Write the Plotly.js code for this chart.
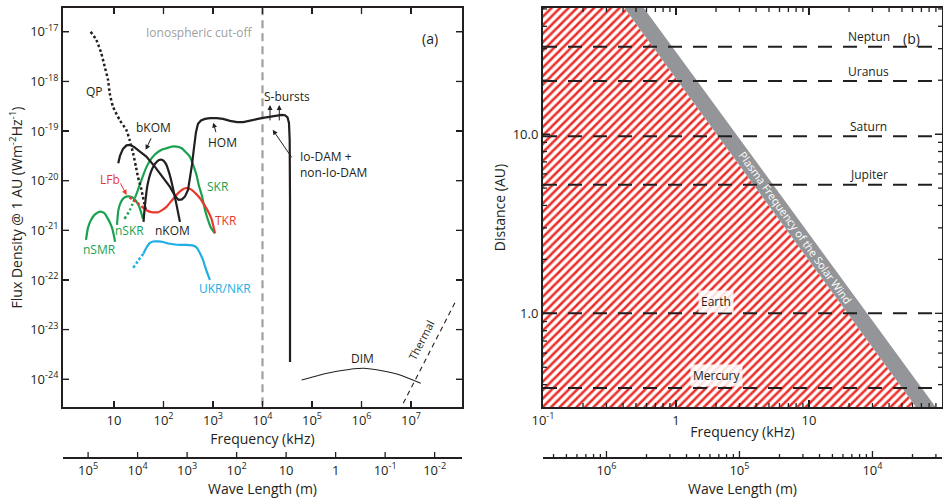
<!DOCTYPE html>
<html><head><meta charset="utf-8">
<script src="https://cdn.plot.ly/plotly-3.0.1.min.js"></script>
<style>html,body{margin:0;padding:0;background:#fff}#chart{width:943px;height:501px}</style>
</head><body><div id="chart"></div>
<script>
// ---------------- Panel (a): frequency (kHz) vs flux density @ 1 AU (W m^-2 Hz^-1)
const qpFreq = [3.38, 4.39, 5.53, 6.48, 7.57, 8.19, 9.55, 13.0, 17.7, 20.7, 24.2, 27.8, 30.5, 35.1, 38.5, 43.7];
const qpFlux = [1.0e-17, 6.9e-18, 3.7e-18, 2.0e-18, 1.08e-18, 5.8e-19, 3.1e-19, 1.68e-19, 1.06e-19, 6.65e-20, 3.63e-20, 1.9e-20, 1.19e-20, 7.2e-21, 4.7e-21, 2.6e-21];

const jovianFreq = [12.2, 13.2, 15.2, 17.9, 21.0, 25.4, 32.0, 45.0, 67.3, 97.7, 135, 171, 201, 236, 272, 313, 343, 376, 413, 454, 498, 573, 689, 869, 1188, 1592, 2203, 3055, 4093, 5585, 7638, 10230, 14190, 18750, 24430, 28510, 32000, 34270, 35400, 35970, 35970];
const jovianFlux = [2.25e-20, 3.16e-20, 4.38e-20, 5.15e-20, 5.27e-20, 4.8e-20, 3.98e-20, 3.06e-20, 1.9e-20, 1.19e-20, 7.5e-21, 4.94e-21, 4.1e-21, 4.2e-21, 4.82e-21, 6.5e-21, 1.14e-20, 2.08e-20, 4.58e-20, 9.6e-20, 1.4e-19, 1.64e-19, 1.76e-19, 1.82e-19, 1.82e-19, 1.76e-19, 1.61e-19, 1.51e-19, 1.51e-19, 1.64e-19, 1.74e-19, 1.85e-19, 1.96e-19, 2.07e-19, 2.12e-19, 2.09e-19, 1.89e-19, 1.46e-19, 6.65e-20, 4.1e-21, 2.22e-24];

const nkomFreq = [39.5, 42.3, 47.5, 55.8, 67.3, 81.1, 95.5, 112, 132, 152, 175, 196, 215];
const nkomFlux = [1.48e-21, 3.25e-21, 8.2e-21, 1.5e-20, 2.18e-20, 2.62e-20, 2.62e-20, 2.18e-20, 1.37e-20, 7.85e-21, 4.1e-21, 2.35e-21, 1.48e-21];

const nsmrFreq = [2.72, 2.98, 3.43, 4.13, 5.21, 6.28, 7.57, 9.0, 10.0, 10.5];
const nsmrFlux = [6.4e-22, 1.12e-21, 1.62e-21, 2.09e-21, 2.38e-21, 2.24e-21, 1.7e-21, 1.17e-21, 7.7e-22, 5.9e-22];

const nskrFreq = [11.5, 12.3, 13.8, 15.9, 18.7, 22.6, 26.5, 31.3, 35.1, 38.5];
const nskrFlux = [1.29e-21, 2.58e-21, 3.74e-21, 4.5e-21, 4.82e-21, 4.71e-21, 4.2e-21, 3.25e-21, 2.35e-21, 1.7e-21];
const nskrDotFreq = [16.3, 21.0, 26.5];
const nskrDotFlux = [1.7e-21, 2.58e-21, 4.5e-21];

const skrFreq = [26.5, 29.9, 33.5, 38.5, 45.4, 57.8, 73, 92, 116, 147, 185, 233, 285, 343, 404, 469, 521, 591, 689, 792, 912, 1097];
const skrFlux = [4.5e-21, 6.2e-21, 8.6e-21, 1.25e-20, 1.9e-20, 2.84e-20, 3.63e-20, 4.18e-20, 4.52e-20, 4.87e-20, 4.87e-20, 4.52e-20, 3.72e-20, 3.02e-20, 1.99e-20, 1.25e-20, 7.85e-21, 5.18e-21, 2.58e-21, 1.62e-21, 1.12e-21, 8.7e-22];

const lfbFreq = [20.6, 27.8, 39.5];
const lfbFlux = [4.6e-21, 3.74e-21, 2.83e-21];
const tkrFreq = [39.5, 46.4, 57.8, 67.3, 78.5, 95.5, 116, 142, 171, 215, 272, 320, 372, 454, 546, 658, 803, 933, 1097];
const tkrFlux = [2.83e-21, 2.52e-21, 2.32e-21, 2.3e-21, 2.32e-21, 2.58e-21, 3.0e-21, 3.83e-21, 4.78e-21, 6.08e-21, 7.06e-21, 7.0e-21, 6.53e-21, 5.42e-21, 4.44e-21, 3.33e-21, 2.38e-21, 1.7e-21, 8.7e-22];

const ukrDotFreq = [24.5, 30.5, 39.5];
const ukrDotFlux = [1.75e-22, 2.42e-22, 3.42e-22];
const ukrFreq = [39.5, 44.3, 52.6, 62.2, 77.4, 97.7, 123, 156, 215, 289, 400, 475, 546, 628, 705, 792, 869];
const ukrFlux = [3.42e-22, 4.31e-22, 5.5e-22, 5.97e-22, 5.97e-22, 5.83e-22, 5.44e-22, 5.25e-22, 5.08e-22, 5.08e-22, 4.92e-22, 4.42e-22, 3.45e-22, 2.53e-22, 1.75e-22, 1.26e-22, 1.0e-22];

const dimFreq = [6.19e4, 1.45e5, 3.68e5, 1.09e6, 2.76e6, 6.0e6, 1.57e7];
const dimFlux = [9.6e-25, 1.22e-24, 1.48e-24, 1.66e-24, 1.46e-24, 1.22e-24, 8.3e-25];
const thermalFreq = [6.98e6, 8.37e7];
const thermalFlux = [3.27e-25, 4.08e-23];

const cutoffFreq = 1e4;
const fluxRangeA = [3.0e-25, 3.0e-17];

const freqTicksA = [10, 1e2, 1e3, 1e4, 1e5, 1e6, 1e7];
const freqTickTextA = ['10', '10<sup>2</sup>', '10<sup>3</sup>', '10<sup>4</sup>', '10<sup>5</sup>', '10<sup>6</sup>', '10<sup>7</sup>'];
const fluxTicks = [1e-17, 1e-18, 1e-19, 1e-20, 1e-21, 1e-22, 1e-23, 1e-24];
const fluxTickText = ['10<sup>-17</sup>', '10<sup>-18</sup>', '10<sup>-19</sup>', '10<sup>-20</sup>', '10<sup>-21</sup>', '10<sup>-22</sup>', '10<sup>-23</sup>', '10<sup>-24</sup>'];
const waveTicksA = [1e5, 1e4, 1e3, 1e2, 10, 1, 0.1, 0.01];
const waveTickTextA = ['10<sup>5</sup>', '10<sup>4</sup>', '10<sup>3</sup>', '10<sup>2</sup>', '10', '1', '10<sup>-1</sup>', '10<sup>-2</sup>'];

const labelTextA = ['QP', 'bKOM', 'HOM', 'S-bursts', 'LFb', 'SKR', 'TKR', 'nSKR', 'nKOM', 'nSMR', 'UKR/NKR', 'DIM'];
const labelFreqA = [4.13, 61.4, 1520, 31300, 8.3, 1262, 1832, 21.0, 149, 5.21, 1746, 1.07e6];
const labelFluxA = [6.2e-19, 1.16e-19, 5.78e-20, 4.9e-19, 1.04e-20, 7.5e-21, 1.55e-21, 9.7e-22, 9.7e-22, 4.03e-22, 6.6e-23, 2.67e-24];
const labelColorA = ['#231f20', '#231f20', '#231f20', '#231f20', '#e8392d', '#1aa14f', '#e8392d', '#1aa14f', '#231f20', '#1aa14f', '#20aee5', '#231f20'];

// ---------------- Panel (b): frequency (kHz) vs distance (AU)
const planetNames = ['Mercury', 'Earth', 'Jupiter', 'Saturn', 'Uranus', 'Neptun'];
const planetDist = [0.383, 1.0, 5.22, 9.75, 19.8, 30.8];
const planetLabelFreq = [2.0, 2.0, 28.2, 28.2, 28.2, 28.2];
const bandDist = [0.3, 50.6];
const bandLowFreq = [63.8, 0.41];
const bandHighFreq = [89.5, 0.573];
const freqRangeB = [0.1, 100];
const distRangeB = [0.3, 50.6];
const freqTicksB = [0.1, 1, 10, 100];
const freqTickTextB = ['10<sup>-1</sup>', '1', '10', '100'];
const freqMinorB = [0.2,0.3,0.4,0.5,0.6,0.7,0.8,0.9, 2,3,4,5,6,7,8,9, 20,30,40,50,60,70,80,90];
const distTicksB = [1, 10];
const distTickTextB = ['1.0', '10.0'];
const distMinorB = [0.4,0.5,0.6,0.7,0.8,0.9, 2,3,4,5,6,7,8,9, 20,30,40,50];
const waveTicksB = [1e6, 1e5, 1e4];
const waveTickTextB = ['10<sup>6</sup>', '10<sup>5</sup>', '10<sup>4</sup>'];
const waveMinorPosB = [0.12,0.15,0.18,0.21,0.24,0.27, 0.6,0.9,1.2,1.5,1.8,2.1,2.4,2.7, 6,9,12,15,18,21,24,27, 60,90];

const LIGHT = 3e5; // wavelength (m) * frequency (kHz)
const INK = '#231f20', GREEN = '#1aa14f', RED = '#e8392d', BLUE = '#20aee5';
const W = 943, H = 501;

const traces = [];
function line(x, y, color, width, dash, xa, ya, shape) {
  traces.push({type: 'scatter', mode: 'lines', x: x, y: y, xaxis: xa || 'x', yaxis: ya || 'y',
    line: {color: color, width: width, dash: dash || 'solid', shape: shape || 'spline', smoothing: 0.6},
    hoverinfo: 'skip', showlegend: false});
}
function carrier(x, y, xa, ya) {
  traces.push({type:'scatter', mode:'markers', x: x, y: y, xaxis: xa, yaxis: ya,
    marker:{opacity:0, size:1}, hoverinfo:'skip', showlegend:false});
}
line([cutoffFreq, cutoffFreq], fluxRangeA, '#a0a0a0', 2.2, '8px,5px', 'x', 'y', 'linear');
line(nsmrFreq, nsmrFlux, GREEN, 2.2);
line(nskrFreq, nskrFlux, GREEN, 2.2);
line(nskrDotFreq, nskrDotFlux, GREEN, 2.5, '2.5px,2.5px');
line(skrFreq, skrFlux, GREEN, 2.2);
line(ukrDotFreq, ukrDotFlux, BLUE, 2.5, '2.5px,2.5px');
line(ukrFreq, ukrFlux, BLUE, 2.2);
line(lfbFreq, lfbFlux, RED, 2.5, '2.5px,2.5px');
line(tkrFreq, tkrFlux, RED, 2.2);
line(qpFreq, qpFlux, INK, 2.5, '2.5px,2.5px');
line(nkomFreq, nkomFlux, INK, 2.2);
line(jovianFreq, jovianFlux, INK, 2.2, 'solid', 'x', 'y', 'linear');
line(dimFreq, dimFlux, INK, 1.1);
line(thermalFreq, thermalFlux, INK, 1.1, '5px,4px', 'x', 'y', 'linear');
carrier(waveTicksA.map(w => LIGHT / w), waveTicksA.map(() => 1e-20), 'x2', 'y');

traces.push({type:'scatter', mode:'lines', xaxis:'x3', yaxis:'y3', hoverinfo:'skip', showlegend:false,
  x: [freqRangeB[0], freqRangeB[0], bandLowFreq[1], bandLowFreq[0]],
  y: [distRangeB[0], distRangeB[1], bandDist[1], bandDist[0]],
  fill:'toself', fillcolor:'white', line:{width:0},
  fillpattern:{shape:'/', fgcolor:'#ec2f2a', bgcolor:'white', size:6, solidity:0.42}});
traces.push({type:'scatter', mode:'lines', xaxis:'x3', yaxis:'y3', hoverinfo:'skip', showlegend:false,
  x: [bandLowFreq[0], bandLowFreq[1], bandHighFreq[1], bandHighFreq[0]],
  y: [bandDist[0], bandDist[1], bandDist[1], bandDist[0]],
  fill:'toself', fillcolor:'#939598', line:{width:0}});
planetDist.forEach(d => line(freqRangeB, [d, d], INK, 2, '14px,11px', 'x3', 'y3', 'linear'));
carrier(waveTicksB.map(w => LIGHT / w), waveTicksB.map(() => 1), 'x4', 'y3');

const FONT = 'Open Sans, Noto Sans, sans-serif';
const annotations = [];
function txt(x, y, text, color, opts) {
  annotations.push(Object.assign({x: x, y: y, text: text, showarrow: false, xref: 'x', yref: 'y',
    font: {family: FONT, size: 12, color: color || INK}}, opts || {}));
}
labelTextA.forEach((t, i) => txt(Math.log10(labelFreqA[i]), Math.log10(labelFluxA[i]), t, labelColorA[i]));
txt(Math.log10(7000), Math.log10(9.5e-18), 'Ionospheric cut-off', '#a0a0a0', {xanchor: 'right'});
txt(Math.log10(52100), Math.log10(2.08e-20), 'Io-DAM +<br>non-Io-DAM', INK, {xanchor: 'left', align: 'left'});
txt(Math.log10(1.64e7), Math.log10(6.2e-24), 'Thermal', INK, {textangle: -63, font: {family: FONT, size: 11, color: INK}});
txt(0.945, 0.952, '(a)', INK, {xref: 'x domain', yref: 'y domain', font: {family: FONT, size: 14, color: INK}});
function arrow(f, F, ax, ay, color) {
  annotations.push({x: Math.log10(f), y: Math.log10(F), xref: 'x', yref: 'y', text: '', showarrow: true,
    arrowhead: 2, arrowsize: 1, arrowwidth: 1, arrowcolor: color || INK, ax: ax, ay: ay});
}
arrow(43.7, 4.18e-20, 6, -13);
arrow(1014, 1.48e-19, 3, 11);
arrow(14190, 3.37e-19, 0, 17);
arrow(21830, 3.37e-19, 0, 17);
arrow(16070, 1.06e-19, 20, 29);
arrow(18.0, 5.18e-21, -7, -13, RED);

planetNames.forEach((n, i) => txt(Math.log10(planetLabelFreq[i]), Math.log10(planetDist[i]), n, INK,
  {xref: 'x3', yref: 'y3', yshift: i < 2 ? 12 : 10,
   bgcolor: i < 2 ? 'rgba(255,255,255,0.85)' : 'rgba(0,0,0,0)', borderpad: 2}));
txt(Math.log10(7.9), Math.log10(3.0), 'Plasma Frequency of the Solar Wind', 'white',
  {xref: 'x3', yref: 'y3', textangle: 54.3, font: {family: FONT, size: 11, color: 'white'}});
txt(0.95, 0.952, '(b)', INK, {xref: 'x3 domain', yref: 'y3 domain', font: {family: FONT, size: 14, color: INK}});

const DOMA = [63/W, 462/W], DOMB = [543/W, 942/W], DOMY = [1 - 407/H, 1 - 8/H];
const WAVEPOS = 1 - 458/H;
const RA = [-0.03, 8.03], RYA = [-24.56, -16.52];
const RB = [-1, 2], RYB = [Math.log10(distRangeB[0]), Math.log10(distRangeB[1])];

// tick marks, placed on the paper through each axis' log scale
const shapes = [];
function toPaper(dom, rng, v) { return dom[0] + (dom[1] - dom[0]) * (Math.log10(v) - rng[0]) / (rng[1] - rng[0]); }
function inside(rng, v) { const l = Math.log10(v); return l > rng[0] + 1e-6 && l < rng[1] - 1e-6; }
function xTickMarks(dom, rng, vals, len, yEdges) {
  vals.filter(v => inside(rng, v)).forEach(v => {
    const xp = toPaper(dom, rng, v);
    yEdges.forEach(([y0, dir]) => shapes.push({type: 'line', xref: 'paper', yref: 'paper', x0: xp, x1: xp,
      y0: y0, y1: y0 + dir * len / H, line: {color: INK, width: 1.3}}));
  });
}
function yTickMarks(dom, rng, vals, len, xEdges) {
  vals.filter(v => inside(rng, v)).forEach(v => {
    const yp = toPaper(dom, rng, v);
    xEdges.forEach(([x0, dir]) => shapes.push({type: 'line', xref: 'paper', yref: 'paper', x0: x0, x1: x0 + dir * len / W,
      y0: yp, y1: yp, line: {color: INK, width: 1.3}}));
  });
}
const boxY = [[DOMY[0], 1], [DOMY[1], -1]];
xTickMarks(DOMA, RA, freqTicksA, 6, boxY);
yTickMarks(DOMY, RYA, fluxTicks, 6, [[DOMA[0], 1], [DOMA[1], -1]]);
xTickMarks(DOMA, RA, waveTicksA.map(w => LIGHT / w), 6, [[WAVEPOS, 1]]);
xTickMarks(DOMB, RB, freqTicksB, 7, boxY);
xTickMarks(DOMB, RB, freqMinorB, 4, boxY);
yTickMarks(DOMY, RYB, distTicksB, 7, [[DOMB[0], 1], [DOMB[1], -1]]);
yTickMarks(DOMY, RYB, distMinorB, 4, [[DOMB[0], 1], [DOMB[1], -1]]);
xTickMarks(DOMB, RB, waveTicksB.map(w => LIGHT / w), 7, [[WAVEPOS, 1]]);
xTickMarks(DOMB, RB, waveMinorPosB, 4, [[WAVEPOS, 1]]);

const base = {showgrid: false, zeroline: false, showline: true, linecolor: INK, linewidth: 2,
  ticks: 'inside', tickcolor: INK, tickwidth: 1.3, ticklen: 6, automargin: false, type: 'log',
  tickmode: 'array', tickfont: {family: FONT, size: 13, color: INK}};
const layout = {
  width: W, height: H, margin: {l: 0, r: 0, t: 0, b: 0}, paper_bgcolor: 'white', plot_bgcolor: 'rgba(0,0,0,0)',
  showlegend: false, font: {family: FONT, color: INK, size: 12},
  xaxis: Object.assign({}, base, {domain: DOMA, anchor: 'y', range: RA, mirror: 'ticks',
    tickvals: freqTicksA, ticktext: freqTickTextA,
    title: {text: 'Frequency (kHz)', font: {family: FONT, size: 14, color: INK}, standoff: 0}}),
  yaxis: Object.assign({}, base, {domain: DOMY, anchor: 'x', range: RYA, mirror: 'ticks',
    tickvals: fluxTicks, ticktext: fluxTickText,
    title: {text: 'Flux Density @ 1 AU (Wm<sup>-2</sup>Hz<sup>-1</sup>)', font: {family: FONT, size: 14, color: INK}, standoff: 4}}),
  xaxis2: Object.assign({}, base, {domain: DOMA, anchor: 'free', overlaying: 'x', position: WAVEPOS, range: RA, ticks: '',
    tickvals: waveTicksA.map(w => LIGHT / w), ticktext: waveTickTextA,
    title: {text: 'Wave Length (m)', font: {family: FONT, size: 14, color: INK}, standoff: 4}}),
  xaxis3: Object.assign({}, base, {domain: DOMB, anchor: 'y3', range: RB, mirror: 'ticks', ticklen: 7,
    tickvals: freqTicksB, ticktext: freqTickTextB,
    title: {text: 'Frequency (kHz)', font: {family: FONT, size: 14, color: INK}, standoff: 0}}),
  yaxis3: Object.assign({}, base, {domain: DOMY, anchor: 'x3', range: RYB, mirror: 'ticks', ticklen: 7,
    tickvals: distTicksB, ticktext: distTickTextB,
    title: {text: 'Distance (AU)', font: {family: FONT, size: 14, color: INK}, standoff: 4}}),
  xaxis4: Object.assign({}, base, {domain: DOMB, anchor: 'free', overlaying: 'x3', position: WAVEPOS, range: RB, ticks: '',
    tickvals: waveTicksB.map(w => LIGHT / w), ticktext: waveTickTextB,
    title: {text: 'Wave Length (m)', font: {family: FONT, size: 14, color: INK}, standoff: 4}}),
  shapes: shapes,
  annotations: annotations
};
Plotly.newPlot('chart', traces, layout, {staticPlot: true, displayModeBar: false});
</script></body></html>
